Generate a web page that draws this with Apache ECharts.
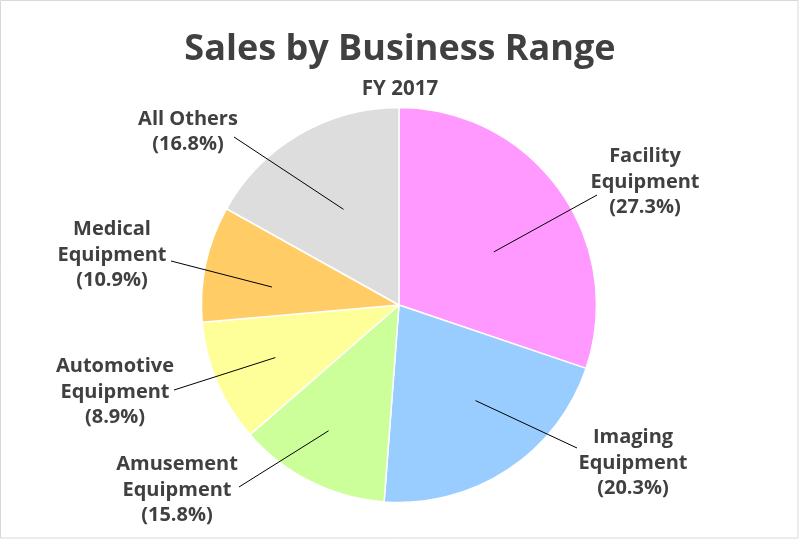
<!DOCTYPE html>
<html>
<head>
<meta charset="utf-8">
<script src="https://cdn.jsdelivr.net/npm/echarts@6/dist/echarts.min.js"></script>
<style>
  html, body { margin: 0; padding: 0; background: #ffffff; }
  #chart { width: 800px; height: 540px; }
</style>
</head>
<body>
<div id="chart"></div>
<script>
// ---- data ----
const titleText = 'Sales by Business Range';
const subtitleText = 'FY 2017';
const categories = ['Facility Equipment', 'Imaging Equipment', 'Amusement Equipment',
                    'Automotive Equipment', 'Medical Equipment', 'All Others'];
// slice sizes as drawn in the picture (share of the circle, %)
const sliceShare = [30.2, 21.0, 12.4, 10.0, 9.5, 16.9];
// percentages printed in the labels
const labelShare = [27.3, 20.3, 15.8, 8.9, 10.9, 16.8];

// ---- style / layout ----
const sliceColors = ['#FF99FF', '#99CCFF', '#CCFF99', '#FFFF99', '#FFCC66', '#DDDDDD'];
const CX = 399, CY = 305, R = 197.5;
// label centre positions
const labelPos = [[645, 182], [633, 463], [177, 490], [115, 392], [112, 255], [188, 132]];
// leader line start inside the slice: [angle offset from slice middle (deg), radius fraction]
const leaderInner = [[6.4, 0.55], [-5.2, 0.62], [2.6, 0.73], [0, 0.68], [-4, 0.65], [0.3, 0.56]];
// leader line end relative to the label centre
const leaderOuter = [[-48, 13], [-56, -15], [62, -3], [59, -2], [59, 6], [46, 5]];
const textColor = '#404040';
const FONT = '"Open Sans", "Noto Sans", sans-serif';

const total = sliceShare.reduce((a, b) => a + b, 0);
const midAngles = [];
{
  let acc = 0;
  sliceShare.forEach(v => { midAngles.push((acc + v / 2) / total * 360); acc += v; });
}

const pieData = categories.map((c, i) => ({ name: c, value: sliceShare[i] }));

const chart = echarts.init(document.getElementById('chart'), null, { renderer: 'canvas' });
chart.setOption({
  animation: false,
  backgroundColor: '#ffffff',
  title: [
    { text: titleText, left: 'center', top: 27,
      textStyle: { fontFamily: FONT, fontSize: 36, fontWeight: 'bold', color: textColor } },
    { text: subtitleText, left: 'center', top: 74,
      textStyle: { fontFamily: FONT, fontSize: 20.5, fontWeight: 'bold', color: textColor } }
  ],
  graphic: [{
    type: 'rect', silent: true, z: 100,
    shape: { x: 0.5, y: 0.5, width: 797.5, height: 537.5 },
    style: { fill: 'none', stroke: '#D9D9D9', lineWidth: 1 }
  }],
  series: [{
    // slices
    type: 'pie',
    z: 2,
    center: [CX, CY],
    radius: R,
    startAngle: 90,
    clockwise: true,
    itemStyle: { borderColor: '#ffffff', borderWidth: 1.5 },
    emphasis: { disabled: true },
    label: { show: false },
    labelLine: { show: false },
    data: pieData.map((d, i) => Object.assign({}, d, { itemStyle: { color: sliceColors[i] } }))
  }, {
    // labels and leader lines on top of the slices
    type: 'pie',
    z: 5,
    silent: true,
    center: [CX, CY],
    radius: R,
    startAngle: 90,
    clockwise: true,
    avoidLabelOverlap: false,
    itemStyle: { color: 'rgba(0,0,0,0)', borderWidth: 0 },
    emphasis: { disabled: true },
    data: pieData,
    label: {
      show: true,
      position: 'outside',
      formatter: p => p.name.replace(' Equipment', '\nEquipment') + '\n(' + labelShare[p.dataIndex].toFixed(1) + '%)',
      fontFamily: FONT, fontSize: 20, fontWeight: 'bold', color: textColor,
      lineHeight: 25.5, align: 'center'
    },
    labelLine: { show: true, smooth: false, length: 10, length2: 10,
      lineStyle: { color: '#000000', width: 1 } },
    labelLayout: function (params) {
      const i = params.dataIndex;
      const lx = labelPos[i][0], ly = labelPos[i][1];
      const a = (midAngles[i] + leaderInner[i][0]) * Math.PI / 180;
      const ix = CX + Math.sin(a) * R * leaderInner[i][1];
      const iy = CY - Math.cos(a) * R * leaderInner[i][1];
      const ox = lx + leaderOuter[i][0], oy = ly + leaderOuter[i][1];
      return {
        x: lx, y: ly, align: 'center', verticalAlign: 'middle',
        labelLinePoints: [[ix, iy], [ox, oy], [ox, oy]]
      };
    }
  }]
});
</script>
</body>
</html>
